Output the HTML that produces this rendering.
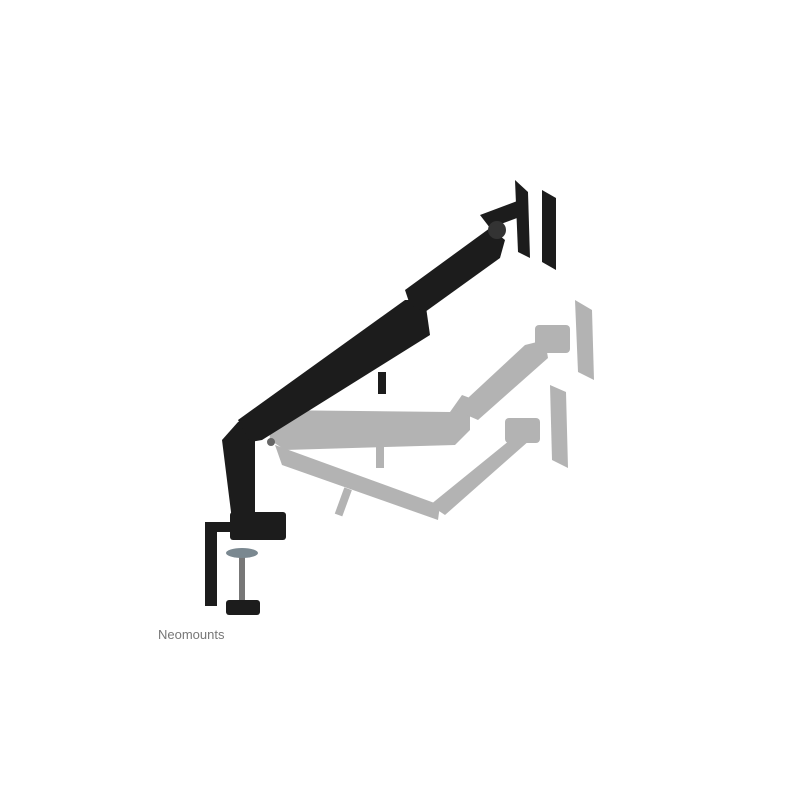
<!DOCTYPE html>
<html><head><style>
html,body{margin:0;padding:0;background:#fff;width:800px;height:800px;overflow:hidden}
.t{position:absolute;left:158px;top:627px;font:13px "Liberation Sans",sans-serif;color:#777}
</style></head><body>
<svg width="800" height="800" style="position:absolute;left:0;top:0">
<!-- ghost arms -->
<g fill="#9a9a9a" opacity="0.75">
<polygon points="268,410 450,412 462,395 470,398 470,430 455,445 285,450 270,440"/>
<polygon points="455,410 525,345 545,340 548,358 478,420"/>
<rect x="535" y="325" width="35" height="28" rx="4"/>
<polygon points="575,300 592,310 594,380 578,372"/>
<rect x="376" y="438" width="8" height="30"/>
<polygon points="275,445 440,505 438,520 282,465"/>
<polygon points="430,505 510,440 520,428 530,440 445,515"/>
<rect x="505" y="418" width="35" height="25" rx="4"/>
<polygon points="550,385 566,392 568,468 552,460"/>
<rect x="340" y="488" width="8" height="28" transform="rotate(20 344 500)"/>
</g>
<!-- black arm -->
<g fill="#1c1c1c">
<polygon points="222,440 238,422 255,418 255,520 232,520"/>
<rect x="230" y="512" width="56" height="28" rx="3"/>
<polygon points="238,420 405,300 425,300 430,335 262,440 250,442"/>
<polygon points="405,290 490,228 505,240 500,258 425,312 410,305"/>
<polygon points="480,215 520,200 525,215 490,228"/>
<polygon points="515,180 528,192 530,258 518,252"/>
<polygon points="542,190 556,198 556,270 542,262"/>
<circle cx="497" cy="230" r="9" fill="#333"/>
<rect x="378" y="372" width="8" height="22"/>
<!-- clamp -->
<rect x="205" y="522" width="12" height="84"/>
<rect x="205" y="522" width="28" height="10"/>
<rect x="239" y="556" width="6" height="44" fill="#777"/>
<rect x="226" y="600" width="34" height="15" rx="3"/>
</g>
<ellipse cx="242" cy="553" rx="16" ry="5" fill="#7a8890"/>
<circle cx="271" cy="442" r="4" fill="#666"/>
</svg>
<div class="t">Neomounts</div>
</body></html>
